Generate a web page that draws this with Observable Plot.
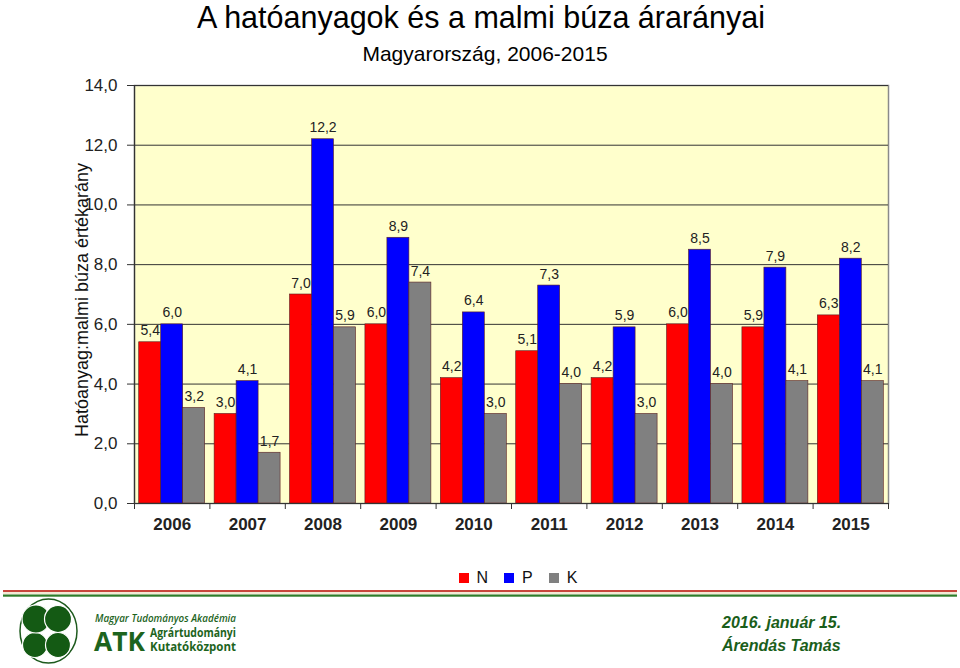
<!DOCTYPE html>
<html>
<head>
<meta charset="utf-8">
<script src="https://cdn.jsdelivr.net/npm/d3@7"></script>
<script src="https://cdn.jsdelivr.net/npm/@observablehq/plot@0.6"></script>
<style>
  html, body { margin: 0; padding: 0; background: #fff; }
  #wrap { position: relative; width: 960px; height: 668px; overflow: hidden; font-family: "Liberation Sans", Arial, sans-serif; }
  #chart { position: absolute; left: 0; top: 0; }
  .title { position: absolute; left: 0; width: 962px; text-align: center; color: #000; white-space: nowrap; }
  #t1 { top: 2px; font-size: 30.5px; line-height: 30px; }
  #t2 { top: 42px; font-size: 21px; left: 4px; }
  #ylab { position: absolute; left: 82px; top: 300px; font-size: 18px; color: #111; white-space: nowrap;
          transform: translate(-50%, -50%) rotate(-90deg); }
  #legend { position: absolute; top: 561px; left: 38px; width: 976px; display: flex; justify-content: center; }
  #footer { position: absolute; left: 0; top: 585px; }
</style>
</head>
<body>
<div id="wrap">
  <div id="chart"></div>
  <div class="title" id="t1">A hatóanyagok és a malmi búza árarányai</div>
  <div class="title" id="t2">Magyarország, 2006-2015</div>
  <div id="ylab">Hatóanyag:malmi búza értékarány</div>
  <div id="legend"></div>
  <svg id="footer" width="960" height="83" viewBox="0 585 960 83">
    <rect x="3" y="590" width="954" height="2" fill="#c8463c"/>
    <rect x="3" y="592" width="954" height="2.5" fill="#f3ead6"/>
    <rect x="3" y="594.5" width="954" height="2.2" fill="#2f7d2a"/>
    <ellipse cx="48.5" cy="631" rx="28.5" ry="32" fill="none" stroke="#1d5a1d" stroke-width="1.5"/>
    <g fill="#145a14" stroke="#fff" stroke-width="1.2">
      <circle cx="35" cy="645" r="12.5"/>
      <circle cx="58" cy="645" r="12.5"/>
      <circle cx="36" cy="619" r="14"/>
      <circle cx="58" cy="619" r="13.5"/>
    </g>
    <g font-family="'Open Sans', 'Noto Sans', sans-serif" fill="#1d641d">
      <text x="95" y="622" font-size="10.5" font-style="italic" font-weight="600" textLength="141" lengthAdjust="spacingAndGlyphs">Magyar Tudományos Akadémia</text>
      <text x="94" y="651" font-size="27" font-weight="700" textLength="51" lengthAdjust="spacingAndGlyphs">ATK</text>
      <text x="150" y="637" font-size="11.5" font-weight="700" textLength="86" lengthAdjust="spacingAndGlyphs">Agrártudományi</text>
      <text x="150" y="650.5" font-size="11.5" font-weight="700" textLength="86" lengthAdjust="spacingAndGlyphs">Kutatóközpont</text>
    </g>
    <g font-family="'Liberation Sans', Arial, sans-serif" fill="#1a5e1a" font-weight="700" font-style="italic" font-size="16">
      <text x="722" y="628">2016. január 15.</text>
      <text x="722" y="651">Árendás Tamás</text>
    </g>
  </svg>
</div>
<script>
const years = [2006, 2007, 2008, 2009, 2010, 2011, 2012, 2013, 2014, 2015];
const N = [5.4, 3.0, 7.0, 6.0, 4.2, 5.1, 4.2, 6.0, 5.9, 6.3];
const P = [6.0, 4.1, 12.2, 8.9, 6.4, 7.3, 5.9, 8.5, 7.9, 8.2];
const K = [3.2, 1.7, 5.9, 7.4, 3.0, 4.0, 3.0, 4.0, 4.1, 4.1];
const nutrients = ["N", "P", "K"];
const colors = ["#FF0000", "#0000FF", "#808080"];
const yTicks = [0, 2, 4, 6, 8, 10, 12, 14];

const series = [N, P, K];
const rows = [];
years.forEach((year, i) => {
  nutrients.forEach((nutrient, k) => {
    rows.push({year, nutrient, k, value: series[k][i]});
  });
});

// group layout in year units: outer padding and bar width within each year slot
const pad = 0.0625;
const bw = (1 - 2 * pad) / nutrients.length;
const x1 = d => d.year - 0.5 + pad + d.k * bw;
const x2 = d => d.year - 0.5 + pad + (d.k + 1) * bw;
const xc = d => d.year - 0.5 + pad + (d.k + 0.5) * bw;
const boundaries = [...years.map(y => y - 0.5), years[years.length - 1] + 0.5];
const fmt = v => v.toFixed(1).replace(".", ",");

const chart = Plot.plot({
  width: 960,
  height: 560,
  marginLeft: 134,
  marginRight: 72,
  marginTop: 85,
  marginBottom: 57,
  style: {fontFamily: "'Liberation Sans', Arial, sans-serif", background: "transparent", color: "#111", overflow: "visible"},
  x: {type: "linear", domain: [boundaries[0], boundaries[boundaries.length - 1]]},
  y: {domain: [0, 14]},
  color: {domain: nutrients, range: colors},
  marks: [
    Plot.frame({fill: "#FFFFCC", stroke: "#8a8a8a", strokeWidth: 1.5}),
    Plot.gridY(yTicks, {stroke: "#333", strokeOpacity: 1, strokeWidth: 1}),
    Plot.rectY(rows, {x1, x2, y: "value", fill: "nutrient", stroke: "#5a2020", strokeWidth: 0.6}),
    Plot.text(rows, {x: xc, y: "value", text: d => fmt(d.value), lineAnchor: "bottom", dy: -7, fontSize: 14, fill: "#222"}),
    Plot.ruleX([boundaries[0]], {stroke: "#333", strokeWidth: 1.2}),
    Plot.ruleY([0], {stroke: "#333", strokeWidth: 1.2}),
    Plot.axisY(yTicks, {tickSize: 7, tickPadding: 10, fontSize: 17, tickFormat: fmt, label: null, stroke: "#333", fill: "#222"}),
    Plot.axisX(boundaries, {tickSize: 6, tickFormat: () => "", label: null, stroke: "#333"}),
    Plot.axisX(years, {tickSize: 0, tickPadding: 14, fontSize: 17, fontWeight: "bold", tickFormat: d => String(d), label: null, fill: "#222"})
  ]
});
document.getElementById("chart").appendChild(chart);

const legend = Plot.legend({
  color: {type: "ordinal", domain: nutrients, range: colors},
  swatchSize: 10,
  style: {fontFamily: "'Liberation Sans', Arial, sans-serif", fontSize: "16px", color: "#111"}
});
document.getElementById("legend").appendChild(legend);
</script>
</body>
</html>
